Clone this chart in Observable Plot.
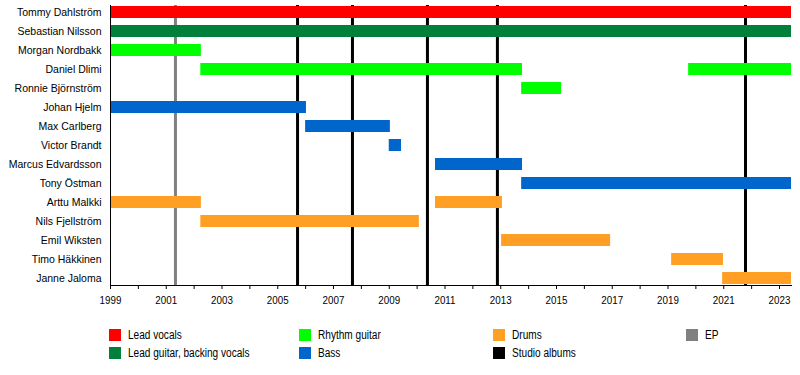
<!DOCTYPE html>
<html>
<head>
<meta charset="utf-8">
<script src="https://cdn.jsdelivr.net/npm/d3@7"></script>
<script src="https://cdn.jsdelivr.net/npm/@observablehq/plot@0.6"></script>
<style>
  html, body { margin: 0; padding: 0; background: #fff; }
  #chart { width: 800px; height: 375px; position: relative; }
  .legend { position: absolute; left: 0; top: 0; width: 800px; font-family: "Liberation Sans", Arial, sans-serif; font-size: 12px; color: #000; }
  .item { position: absolute; display: flex; align-items: center; white-space: nowrap; }
  .sw { width: 12px; height: 12px; margin-right: 7px; flex: none; }
  .item span { display: inline-block; transform: scaleX(0.84); transform-origin: left center; }
</style>
</head>
<body>
<div id="chart"></div>
<script>
// ---- data ----
const members = ["Tommy Dahlström","Sebastian Nilsson","Morgan Nordbakk","Daniel Dlimi","Ronnie Björnström","Johan Hjelm","Max Carlberg","Victor Brandt","Marcus Edvardsson","Tony Östman","Arttu Malkki","Nils Fjellström","Emil Wiksten","Timo Häkkinen","Janne Jaloma"];
const roles = ["Lead vocals","Lead guitar, backing vocals","Rhythm guitar","Bass","Drums"];
const roleColors = ["#ff0000","#00803a","#00ff00","#0066cc","#ffa024"];
const endYear = 2023.43;
const spanMember = ["Tommy Dahlström","Sebastian Nilsson","Morgan Nordbakk","Daniel Dlimi","Daniel Dlimi","Ronnie Björnström","Johan Hjelm","Max Carlberg","Victor Brandt","Marcus Edvardsson","Tony Östman","Arttu Malkki","Arttu Malkki","Nils Fjellström","Emil Wiksten","Timo Häkkinen","Janne Jaloma"];
const spanRole = ["Lead vocals","Lead guitar, backing vocals","Rhythm guitar","Rhythm guitar","Rhythm guitar","Rhythm guitar","Bass","Bass","Bass","Bass","Bass","Drums","Drums","Drums","Drums","Drums","Drums"];
const spanStart = [1999,1999,1999,2002.24,2019.74,2013.75,1999,2006.0,2009.0,2010.66,2013.75,1999,2010.66,2002.24,2013.03,2019.13,2020.96];
const spanEnd = [endYear,endYear,2002.26,2013.78,endYear,2015.18,2006.03,2009.04,2009.44,2013.78,endYear,2002.26,2013.06,2010.08,2016.94,2020.99,endYear];
const epYears = [2001.33];
const albumYears = [2005.71, 2007.68, 2010.37, 2012.88, 2021.78];
const majorTicks = [1999,2001,2003,2005,2007,2009,2011,2013,2015,2017,2019,2021,2023];
const minorTicks = [2000,2002,2004,2006,2008,2010,2012,2014,2016,2018,2020,2022];
const legendItems = ["Lead vocals","Lead guitar, backing vocals","Rhythm guitar","Bass","Drums","Studio albums","EP"];
const legendColors = ["#ff0000","#00803a","#00ff00","#0066cc","#ffa024","#000000","#808080"];

const spans = spanMember.map((m, i) => ({member: m, role: spanRole[i], start: spanStart[i], end: spanEnd[i]}));

const plot = Plot.plot({
  width: 800,
  height: 318,
  marginLeft: 110,
  marginRight: 9,
  marginTop: 5,
  marginBottom: 33,
  style: {fontFamily: "'Liberation Sans', Arial, sans-serif", fontSize: "11px", color: "#000"},
  x: {domain: [1999, endYear], axis: null},
  y: {domain: members, paddingInner: 0.39, paddingOuter: 0, axis: null},
  color: {domain: roles, range: roleColors},
  marks: [
    Plot.ruleX(epYears, {stroke: "#808080", strokeWidth: 3}),
    Plot.ruleX(albumYears, {stroke: "#000", strokeWidth: 3}),
    Plot.barX(spans, {x1: "start", x2: "end", y: "member", fill: "role"}),
    Plot.frame({anchor: "left", stroke: "#000"}),
    Plot.frame({anchor: "bottom", stroke: "#000"}),
    Plot.axisY({tickSize: 0, tickPadding: 9, fontSize: 10.5, label: null}),
    Plot.axisX({ticks: majorTicks, tickFormat: d => String(d), tickSize: 4, tickPadding: 6, fontSize: 11.5, label: null}),
    Plot.axisX({ticks: minorTicks, tickFormat: () => "", tickSize: 4, label: null})
  ]
});
const chart = document.getElementById("chart");
chart.appendChild(plot);

// condense the year labels like the reference
d3.select(plot).selectAll('g[aria-label="x-axis tick label"] text').each(function() {
  const w = this.getComputedTextLength();
  if (w > 0) {
    this.setAttribute("textLength", (w * 0.85).toFixed(1));
    this.setAttribute("lengthAdjust", "spacingAndGlyphs");
  }
});

const legend = document.createElement("div");
legend.className = "legend";
const cols = [109, 299, 493, 686];
const rows = [328, 346];
const pos = [[0,0],[0,1],[1,0],[1,1],[2,0],[2,1],[3,0]];
legendItems.forEach((t, i) => {
  const it = document.createElement("div");
  it.className = "item";
  it.style.left = cols[pos[i][0]] + "px";
  it.style.top = rows[pos[i][1]] + "px";
  const sw = document.createElement("div");
  sw.className = "sw";
  sw.style.background = legendColors[i];
  const tx = document.createElement("span");
  tx.textContent = t;
  it.appendChild(sw); it.appendChild(tx);
  legend.appendChild(it);
});
chart.appendChild(legend);
</script>
</body>
</html>
